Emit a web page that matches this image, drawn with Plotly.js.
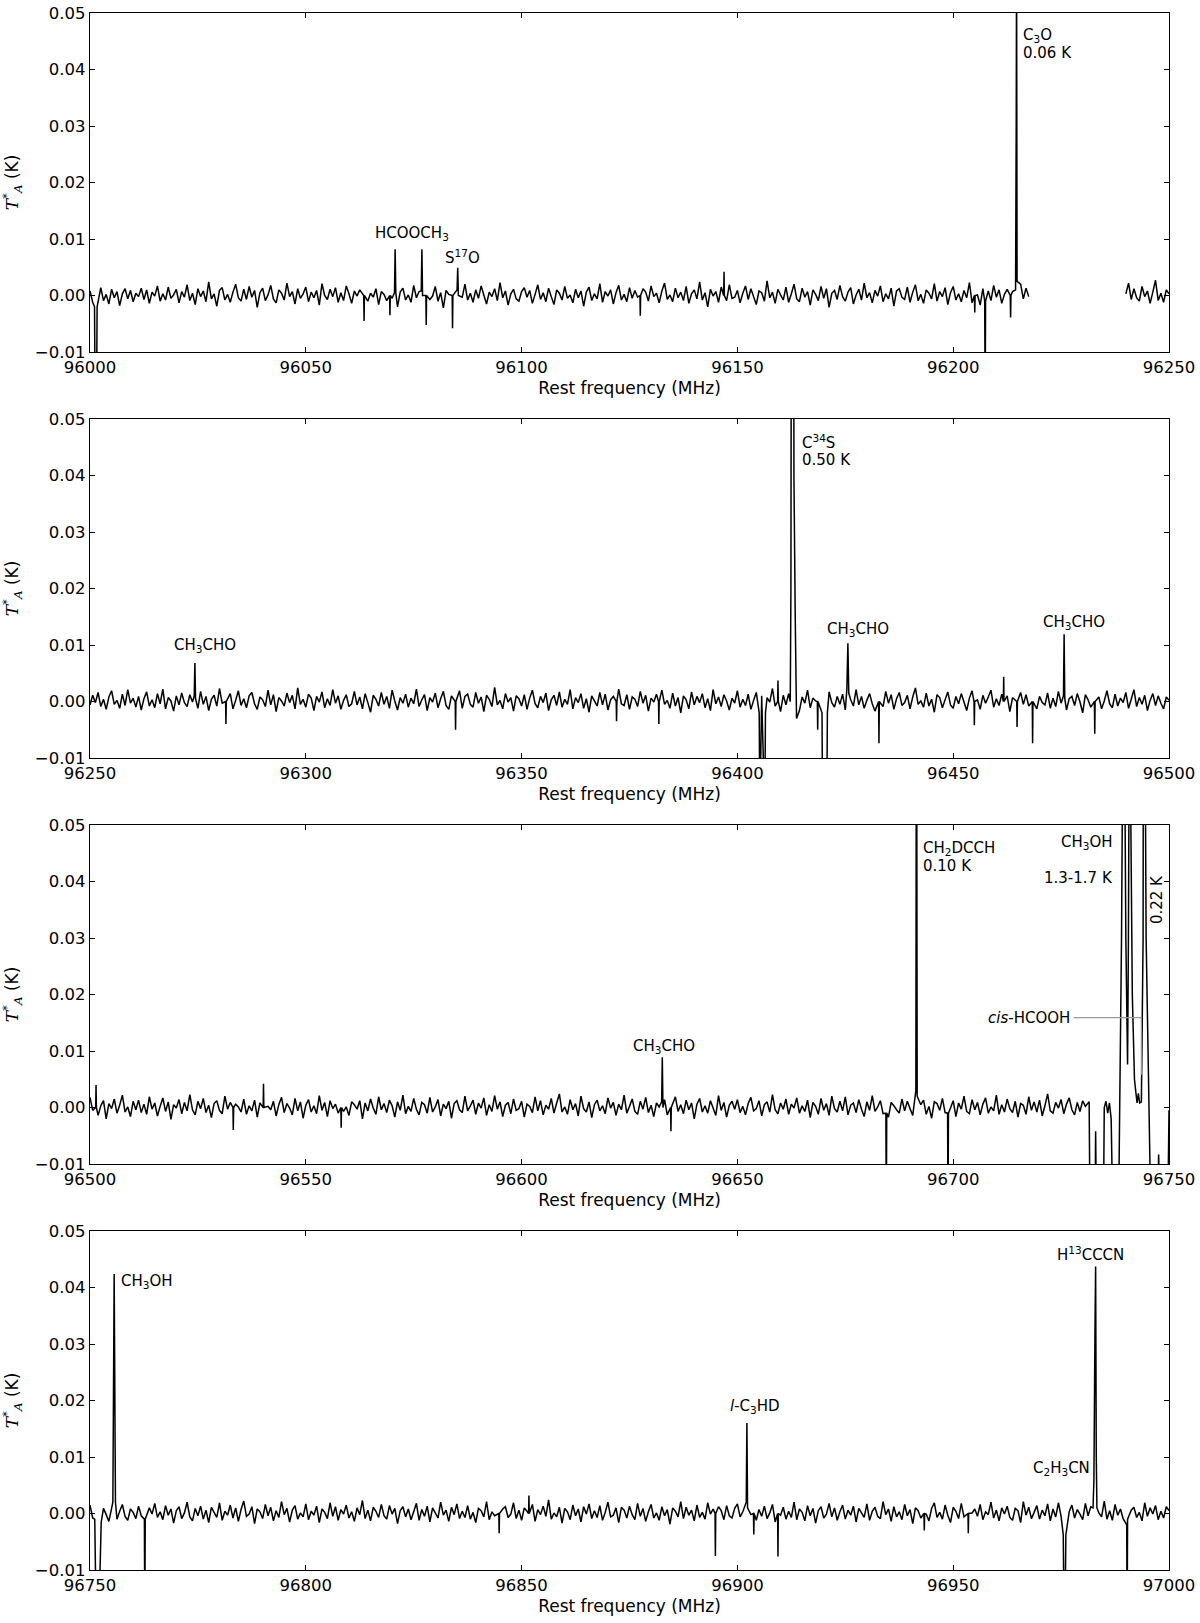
<!DOCTYPE html>
<html>
<head>
<meta charset="utf-8">
<script src="https://cdn.plot.ly/plotly-3.0.1.min.js"></script>
<style>
  body { margin: 0; background: #fff; }
  #spec { width: 1200px; height: 1623px; }
</style>
</head>
<body>
<div id="spec"></div>
<script>
// four 250 MHz windows, baseline sampled every 0.625 MHz
var panelStart = [96000, 96250, 96500, 96750];
var panelWidth = 250;
var noiseStep = 0.625;

// baseline, in units of 0.1 mK (null = no data)
var p1Noise = [
  8,-12,5,-3,14,-9,2,-15,11,-4,7,-18,3,12,-6,9,-11,4,-2,13,
  -7,10,-14,6,-1,17,-10,3,-8,15,-5,1,11,-13,7,-3,19,-9,4,-16,
  12,-2,8,-11,24,-6,3,-19,9,14,-8,2,-12,6,20,-4,-10,11,-7,16,
  -3,9,-21,5,13,-9,1,18,-6,-13,10,4,-8,22,-2,7,-15,12,-5,3,
  15,-11,6,-4,9,-17,21,0,-7,11,-2,14,-12,5,-9,17,3,-14,8,-1,
  10,-6,25,-10,4,-3,12,-16,7,2,-9,15,-5,9,-20,6,13,-8,1,-12,
  18,-4,7,-13,3,11,-7,-1,16,-10,5,-22,9,2,-6,14,-11,8,-3,20,
  -8,4,-12,10,-5,17,1,-15,6,-2,12,-9,23,-4,8,-17,3,11,-6,-10,
  7,14,-3,9,-14,2,19,-7,5,-11,13,-2,-16,10,4,-8,16,-5,1,-13,
  11,-4,8,-19,6,15,-9,3,-6,21,-12,7,-1,10,-15,5,18,-8,2,-11,
  14,-5,9,-3,-18,12,6,-10,17,-2,4,-13,8,22,-7,1,-11,13,-4,6,
  -9,16,-14,3,10,-6,24,-8,5,-20,11,-1,7,-12,15,2,-9,19,-5,-3,
  9,-13,4,17,-7,12,-2,-16,8,5,-10,26,-4,6,-14,11,1,-8,15,-12,
  3,20,-6,-11,13,-3,7,-17,10,2,-9,16,-5,12,-21,4,9,-7,18,-2,
  -10,6,14,-15,1,11,-8,22,-4,5,-13,9,-1,17,-11,3,-6,13,-19,8,
  12,-3,-7,15,-12,6,19,-9,2,-14,10,4,-6,21,-10,7,-2,14,-16,5,
  16,-8,3,-11,9,-4,23,-13,6,1,-17,12,-5,8,-9,18,-3,10,-14,2,
  11,-15,7,4,-10,20,-6,13,-2,null,null,null,null,null,null,null,null,null,null,null,
  null,null,null,null,null,null,null,null,null,null,null,null,null,null,null,null,null,null,null,null,
  null,null,null,null,3,22,-7,12,-4,-10,16,-2,8,-14,6,27,-9,4,-12,10,
  3
];
var p2Noise = [
  -6,11,-2,16,-9,4,-14,8,19,-5,2,-12,13,-7,21,-3,6,-10,9,-15,
  5,17,-8,3,-11,14,-4,22,-13,7,1,-17,10,-6,15,-2,-9,12,-1,8,
  -12,18,-5,9,-16,4,11,-8,23,-3,-10,6,14,-13,2,19,-7,5,-11,10,
  16,-4,-14,8,3,-9,20,-6,12,-18,7,1,-8,15,-2,11,-13,24,-5,4,
  -10,13,6,-16,9,-1,17,-11,5,-7,21,-3,10,-14,2,12,-9,-4,18,-6,
  8,-13,14,-2,-19,11,4,-8,16,-5,9,-12,20,1,-15,7,-3,13,-10,6,
  -4,22,-9,3,12,-16,7,-1,15,-11,5,18,-7,-14,10,2,-6,19,-12,9,
  13,-5,-10,16,-3,8,-18,11,4,-9,25,-6,2,-13,14,-1,7,-17,10,5,
  -8,12,-14,6,20,-4,-11,9,-2,15,-16,3,11,-7,17,-10,4,-5,21,-13,
  7,-2,14,-12,5,-19,10,1,-8,16,-6,13,-15,3,9,-11,22,-4,-7,12,
  -14,8,4,-9,18,-3,11,-17,6,-1,13,-10,20,-5,2,-12,15,-8,7,-20,
  10,3,-13,17,-6,9,-2,14,-11,5,-16,21,-4,8,-9,12,1,-15,6,-3,
  19,-10,4,-7,13,-14,2,16,-5,10,-12,7,-1,23,-8,3,-18,11,-6,14,
  -9,5,12,-16,8,-3,20,-11,6,1,-7,15,-13,4,17,-2,-10,9,-5,13,
  -15,11,3,-8,21,-6,9,-12,2,14,-4,-17,10,6,-9,18,-3,12,-14,5,
  16,-7,-2,11,-13,8,24,-5,1,-10,15,-8,4,-19,12,7,-11,3,17,-6,
  -12,9,-4,14,-1,-16,6,19,-9,3,-14,11,-3,8,20,-10,5,-7,13,-2,
  10,-18,7,2,-11,16,-5,12,-8,4,22,-13,9,-2,-6,15,-12,6,-9,18,
  -3,11,-15,5,9,-7,14,-1,-20,12,3,-10,17,-6,8,-13,1,19,-4,-11,
  13,-8,6,-2,16,-12,4,21,-9,7,-5,11,-16,2,14,-7,10,-3,-13,8,
  2
];
var p3Noise = [
  18,-5,9,-14,3,12,-20,7,-2,15,-10,4,22,-8,1,-16,11,-4,13,-9,
  6,-12,19,-3,8,-15,2,17,-7,10,-21,5,-1,14,-11,9,-6,23,-4,-13,
  11,-2,16,-9,4,-18,7,12,-5,-11,20,-3,9,-14,6,1,-8,15,-12,3,
  -6,13,-17,8,24,-10,2,-4,11,-15,5,18,-9,7,-1,-13,16,-6,10,-19,
  4,14,-8,3,-11,21,-5,9,-16,12,-2,6,-10,17,-7,1,-14,10,5,-3,
  12,-20,8,-6,15,-1,-12,19,-4,7,-9,13,3,-17,10,-5,22,-11,2,-7,
  16,-3,-13,9,5,-10,18,-8,1,14,-15,6,-2,11,-19,7,12,-4,-9,20,
  -6,3,13,-12,8,-1,17,-14,5,-7,21,-3,10,-16,4,9,-11,15,-5,-2,
  11,-17,6,2,-9,19,-6,12,-13,4,-3,16,-10,8,24,-8,1,-12,14,-4,
  7,-15,20,-2,-8,10,-18,5,13,-6,3,-11,17,-1,9,-14,6,-4,22,-10,
  2,15,-7,-12,11,-3,18,-9,4,-16,8,1,-5,14,-13,10,-2,19,-7,5,
  -11,13,-4,8,-20,6,16,-8,3,-10,12,-1,-14,21,-5,9,-17,4,11,-3,
  14,-9,2,-13,7,18,-6,-2,12,-15,5,10,-8,23,-4,-11,8,-3,15,-12,
  6,-1,17,-10,3,-7,13,-18,9,2,-12,16,-5,7,-14,20,-2,-8,11,-6,
  19,-13,4,8,-9,14,-3,-16,10,-5,21,-7,1,12,-11,6,-17,9,3,-4,
  -10,15,-6,11,-2,-14,18,-8,5,13,-12,2,-19,10,7,-5,16,-9,4,-1,
  12,-16,8,-3,20,-7,-11,14,-4,9,-13,6,17,-10,1,-6,22,-12,5,-8,
  15,-2,-9,11,-17,7,4,-12,19,-5,10,-8,13,-15,3,24,-6,-10,9,-1,
  14,-11,6,17,-4,-13,9,-7,12,2,22
];
var p4Noise = [
  15,-8,3,12,-6,9,-2,-14,7,11,-10,4,16,-5,-12,8,2,-9,13,-4,
  6,-15,10,-1,18,-7,3,-11,14,-3,8,-17,5,12,-9,1,20,-6,-13,9,
  -4,13,-10,6,-16,11,2,-7,19,-12,4,-3,15,-8,10,-14,7,22,-5,-1,
  12,-18,8,3,-9,16,-4,11,-13,5,-7,21,-2,9,-15,6,14,-10,1,-6,
  17,-11,4,-3,13,-16,8,2,-9,19,-5,12,-12,7,-1,15,-8,3,-14,10,
  -2,23,-9,6,-13,11,4,-7,16,-4,-10,14,-1,9,-18,5,12,-6,8,-11,
  3,18,-12,7,-5,13,-15,10,1,-8,20,-3,6,-14,11,-2,17,-9,4,-7,
  14,-10,2,-16,9,5,-6,21,-11,3,-4,15,-13,8,12,-7,-1,19,-9,6,
  -12,10,4,-8,16,-14,7,-2,13,-5,24,-10,1,-6,11,-17,9,3,-11,15,
  -4,8,-15,12,-1,17,-9,5,-7,14,-12,2,20,-6,-3,10,-16,11,6,-8,
  13,-2,-11,18,-5,9,-14,3,16,-8,1,-12,12,-4,7,-19,10,4,-6,21,
  -9,11,-3,6,-13,15,-7,2,-10,19,-1,8,-16,12,5,-11,14,-4,-8,9,
  17,-6,3,-14,10,-2,22,-12,7,-5,13,-9,1,16,-15,6,-3,11,-10,4,
  -7,20,-11,8,2,-13,14,-4,9,-17,5,12,-8,-1,18,-6,10,-12,3,15,
  -10,6,-3,13,-15,9,1,-7,17,-12,4,11,-5,-9,21,-2,8,-14,12,-6,
  3,-11,16,-4,7,-18,10,5,-8,14,-1,-13,9,19,-7,2,-10,15,-3,-16,
  11,4,-9,18,-6,12,-14,1,8,-5,16,-11,3,-2,20,-8,6,-13,10,-1,
  13,-7,-12,9,5,-16,21,-3,11,-9,2,14,-10,6,-4,17,-13,8,-6,19,
  -5,10,-14,3,15,-8,7,-1,-11,18,-4,12,-17,9,1,-6,22,-10,5,-12,
  16,-3,8,-9,13,-15,6,11,-7,2,-13,19,-5,10,-1,14,-11,4,-8,12,
  5
];

// resolved line profiles: rest frequency (MHz) and T*A (K)
var p1LineX = [96001.05, 96001.2, 96001.5, 96001.65,
  96070.55, 96070.7, 96070.85, 96076.75, 96076.9, 96077.05,
  96085.05, 96085.2, 96085.35, 96207.3, 96207.4, 96207.5,
  96214.45, 96214.6, 96214.68, 96214.8];
var p1LineY = [-0.002, -0.02, -0.02, -0.002,
  0.0005, 0.0082, 0.0005, 0.0008, 0.0082, 0.0,
  0.001, 0.0049, 0.0, -0.001, -0.02, -0.001,
  0.001, 0.03, 0.06, 0.0025];
// single-channel spikes on the baseline
var p1SpikeX = [96063.5, 96069.5, 96077.9, 96084.0, 96127.5, 96146.9, 96205.0, 96213.3];
var p1SpikeY = [-0.0045, -0.0035, -0.0052, -0.0058, -0.0036, 0.0042, -0.003, -0.0039];

var p2LineX = [96274.15, 96274.3, 96274.45,
  96405.05, 96405.2, 96406.35, 96406.5,
  96412.25, 96412.4, 96412.5, 96412.8, 96413.0, 96413.1, 96413.4, 96413.7,
  96419.6, 96419.75, 96420.7, 96420.85,
  96425.35, 96425.6, 96425.8, 96475.55, 96475.7, 96475.85];
var p2LineY = [0.001, 0.0068, 0.0005,
  -0.002, -0.02, -0.02, -0.002,
  0.0, 0.02, 0.08, 0.5, 0.1, 0.04, 0.015, -0.003,
  -0.002, -0.02, -0.02, -0.002,
  0.002, 0.0103, 0.0015, 0.001, 0.0119, 0.0005];
var p2SpikeX = [96281.5, 96334.7, 96372.0, 96381.8, 96409.4, 96418.6,
  96432.8, 96454.9, 96461.7, 96464.8, 96468.4, 96482.8];
var p2SpikeY = [-0.004, -0.005, -0.0035, -0.004, 0.0037, -0.005,
  -0.0074, -0.0042, 0.0044, -0.0045, -0.0074, -0.0057];

var p3LineX = [96632.45, 96632.6, 96632.75,
  96684.4, 96684.5, 96684.6, 96691.35, 96691.5, 96691.65, 96698.7, 96698.8, 96698.9,
  96731.5, 96731.7, 96732.85, 96733.0, 96733.2, 96734.8, 96735.0, 96735.4, 96735.8,
  96736.2, 96736.6, 96737.0, 96738.3, 96739.0, 96739.25, 96739.5, 96739.75, 96740.0,
  96740.4, 96740.6, 96740.75, 96740.9, 96741.05, 96741.5, 96742.0, 96742.3, 96742.6,
  96742.9, 96743.2, 96743.6, 96744.0, 96744.25, 96744.5, 96744.7, 96745.7, 96747.3,
  96747.6, 96747.9, 96749.7, 96750.0];
var p3LineY = [0.001, 0.0089, 0.0,
  -0.001, -0.02, -0.001, 0.003, 0.1, 0.002, -0.001, -0.02, -0.001,
  0.001, -0.02, -0.02, -0.0042, -0.02, -0.02, 0.0, 0.0011, -0.001,
  0.0008, -0.002, -0.02, -0.02, 0.03, 0.06, 1.5, 0.06, 0.03,
  0.0076, 0.03, 0.06, 1.3, 0.06, 0.02, 0.005, 0.0028, 0.0008,
  0.0025, 0.0008, 0.001, 0.03, 0.22, 0.06, 0.03, -0.015, -0.02,
  -0.0083, -0.02, -0.02, -0.0005];
var p3SpikeX = [96501.4, 96533.2, 96540.2, 96558.2, 96634.6];
var p3SpikeY = [0.004, -0.004, 0.0042, -0.0036, -0.0042];

var p4LineX = [96751.1, 96751.45, 96752.0, 96752.6, 96755.3, 96755.6, 96755.9,
  96762.6, 96762.7, 96762.8, 96902.05, 96902.2, 96902.35,
  96975.5, 96975.7, 96975.9, 96976.1,
  96982.4, 96982.6, 96982.85, 96983.0, 96983.15, 96983.3, 96990.2, 96990.3, 96990.4];
var p4LineY = [-0.001, -0.02, -0.02, -0.0015, 0.002, 0.0424, 0.002,
  -0.001, -0.02, -0.001, 0.002, 0.016, 0.001,
  -0.0038, -0.02, -0.02, -0.0038,
  0.001, 0.0059, 0.0326, 0.0437, 0.01, 0.001, -0.002, -0.02, -0.001];
var p4SpikeX = [96844.8, 96851.7, 96894.9, 96903.8, 96909.4, 96943.3, 96953.5];
var p4SpikeY = [-0.0035, 0.0032, -0.0075, -0.0037, -0.0076, -0.003, -0.0035];

// line labels per panel: [text, freq, T, xanchor, angle]
var p1Labels = [
  ['HCOOCH<sub>3</sub>', 96074.6, 0.0109, 'center', 0],
  ['S<sup>17</sup>O', 96086.3, 0.0069, 'center', 0],
  ['C<sub>3</sub>O', 96215.6, 0.0461, 'left', 0],
  ['0.06 K', 96215.6, 0.0429, 'left', 0]
];
var p2Labels = [
  ['CH<sub>3</sub>CHO', 96276.7, 0.0099, 'center', 0],
  ['C<sup>34</sup>S', 96414.6, 0.0459, 'left', 0],
  ['0.50 K', 96414.6, 0.0427, 'left', 0],
  ['CH<sub>3</sub>CHO', 96427.9, 0.0128, 'center', 0],
  ['CH<sub>3</sub>CHO', 96477.9, 0.0139, 'center', 0]
];
var p3Labels = [
  ['CH<sub>3</sub>CHO', 96633.0, 0.0108, 'center', 0],
  ['CH<sub>2</sub>DCCH', 96692.6, 0.0459, 'left', 0],
  ['0.10 K', 96692.6, 0.0428, 'left', 0],
  ['CH<sub>3</sub>OH', 96737.6, 0.0469, 'right', 0],
  ['1.3-1.7 K', 96737.6, 0.0406, 'right', 0],
  ['0.22 K', 96747.1, 0.0368, 'center', -90],
  ['<i>cis</i>-HCOOH', 96727.6, 0.0158, 'right', 0]
];
var p4Labels = [
  ['CH<sub>3</sub>OH', 96756.7, 0.041, 'left', 0],
  ['<i>l</i>-C<sub>3</sub>HD', 96904.1, 0.019, 'center', 0],
  ['C<sub>2</sub>H<sub>3</sub>CN', 96975.2, 0.0079, 'center', 0],
  ['H<sup>13</sup>CCCN', 96981.8, 0.046, 'center', 0]
];

// leader from the cis-HCOOH label down to its feature
var cisLeaderX = [96727.9, 96743.6];
var cisLeaderY = [0.0159, 0.0058];

var noises = [p1Noise, p2Noise, p3Noise, p4Noise];
var linesX = [p1LineX, p2LineX, p3LineX, p4LineX];
var linesY = [p1LineY, p2LineY, p3LineY, p4LineY];
var spikesX = [p1SpikeX, p2SpikeX, p3SpikeX, p4SpikeX];
var spikesY = [p1SpikeY, p2SpikeY, p3SpikeY, p4SpikeY];
var labels = [p1Labels, p2Labels, p3Labels, p4Labels];

function buildSpectrum(start, noise, lx, ly, sx, sy) {
  var pts = [];
  lx.forEach(function (x, i) { pts.push([x, ly[i]]); });
  // a spike occupies one channel, rising from the baseline
  sx.forEach(function (x, i) {
    pts.push([x - 0.08, 0], [x, sy[i]], [x + 0.08, 0]);
  });
  var marks = pts.map(function (p) { return p[0]; });
  noise.forEach(function (v, i) {
    var f = start + i * noiseStep;
    var near = marks.some(function (x) { return Math.abs(x - f) < 0.35; });
    if (!near) pts.push([f, v === null ? null : v / 10000]);
  });
  pts.sort(function (a, b) { return a[0] - b[0]; });
  return { x: pts.map(function (p) { return p[0]; }), y: pts.map(function (p) { return p[1]; }) };
}

var font = 'DejaVu Sans, Arial, sans-serif';
var plotH = 1558, panelH = 339, panelGap = 406;
var ytitle = '<span style="font-family:DejaVu Serif;font-style:italic">T</span><sup>*</sup>' +
  '<sub><span style="font-family:DejaVu Serif;font-style:italic">A</span></sub> (K)';

var data = [];
var layout = {
  width: 1200, height: 1623,
  margin: { l: 90, r: 31, t: 13, b: 52 },
  paper_bgcolor: '#fff', plot_bgcolor: '#fff',
  showlegend: false,
  font: { family: font, size: 16, color: '#000' },
  annotations: [],
  shapes: []
};

for (var k = 0; k < 4; k++) {
  var sfx = k === 0 ? '' : String(k + 1);
  var s = buildSpectrum(panelStart[k], noises[k], linesX[k], linesY[k], spikesX[k], spikesY[k]);
  data.push({
    x: s.x, y: s.y, type: 'scatter', mode: 'lines',
    xaxis: 'x' + sfx, yaxis: 'y' + sfx,
    line: { color: '#000', width: 1.5, simplify: false },
    connectgaps: false, hoverinfo: 'skip'
  });
  var panelTop = k * panelGap;
  layout['xaxis' + sfx] = {
    domain: [0, 1], anchor: 'y' + sfx,
    range: [panelStart[k], panelStart[k] + panelWidth],
    tick0: panelStart[k], dtick: 50, tickformat: 'd',
    ticks: 'inside', ticklen: 5, tickwidth: 1, tickcolor: '#000',
    showline: true, linecolor: '#000', linewidth: 1.3, mirror: 'ticks',
    showgrid: false, zeroline: false,
    tickfont: { family: font, size: 16.5, color: '#000' },
    title: { text: 'Rest frequency (MHz)', font: { family: font, size: 17, color: '#000' }, standoff: 6 }
  };
  layout['yaxis' + sfx] = {
    domain: [1 - (panelTop + panelH) / plotH, 1 - panelTop / plotH], anchor: 'x' + sfx,
    range: [-0.01, 0.05], tick0: 0, dtick: 0.01, tickformat: '.2f',
    ticks: 'inside', ticklen: 5, tickwidth: 1, tickcolor: '#000',
    showline: true, linecolor: '#000', linewidth: 1.3, mirror: 'ticks',
    showgrid: false, zeroline: false,
    tickfont: { family: font, size: 16.5, color: '#000' },
    title: { text: ytitle, font: { family: font, size: 17, color: '#000' }, standoff: 13 }
  };
  labels[k].forEach(function (a) {
    layout.annotations.push({
      text: a[0], x: a[1], y: a[2], xref: 'x' + sfx, yref: 'y' + sfx,
      xanchor: a[3], yanchor: 'middle', textangle: a[4], showarrow: false,
      font: { family: font, size: 15, color: '#000' }
    });
  });
}

layout.shapes.push({
  type: 'path', xref: 'x3', yref: 'y3',
  path: 'M ' + cisLeaderX[0] + ',' + cisLeaderY[0] + ' L ' + cisLeaderX[1] + ',' + cisLeaderY[0] +
        ' L ' + cisLeaderX[1] + ',' + cisLeaderY[1],
  line: { color: '#999', width: 1.2 }
});

Plotly.newPlot('spec', data, layout, { staticPlot: true, displayModeBar: false });
</script>
</body>
</html>
